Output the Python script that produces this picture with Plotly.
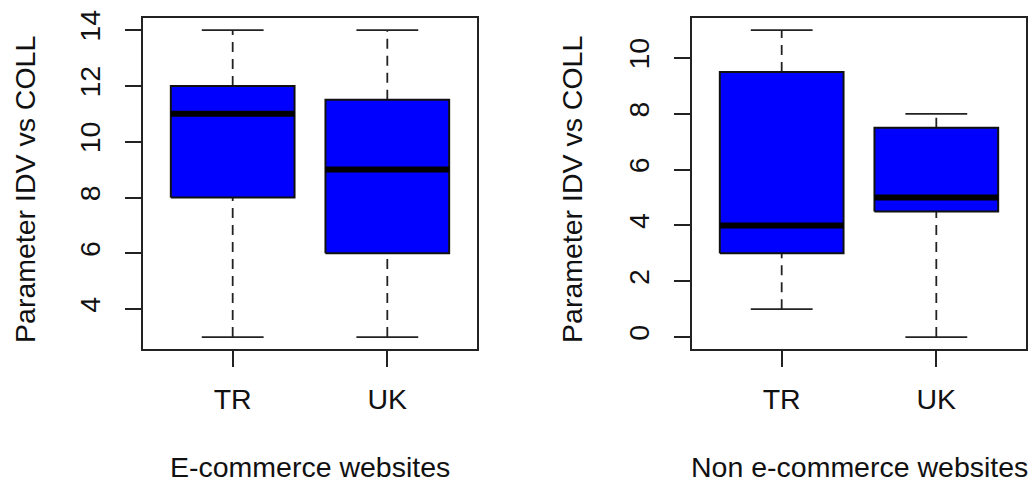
import plotly.graph_objects as go

# Five-number summaries per country group
groups = ["TR", "UK"]

ecom_min = [3, 3]
ecom_q1 = [8, 6]
ecom_med = [11, 9]
ecom_q3 = [12, 11.5]
ecom_max = [14, 14]

non_min = [1, 0]
non_q1 = [3, 4.5]
non_med = [4, 5]
non_q3 = [9.5, 7.5]
non_max = [11, 8]

panel_titles = ["E-commerce websites", "Non e-commerce websites"]
y_title = "Parameter IDV vs COLL"

BOX_HALF = 0.4
CAP_HALF = 0.2
FONT = dict(family="Liberation Sans, Arial, sans-serif", size=28.5, color="#111111")

fig = go.Figure()


def add_boxes(mins, q1s, meds, q3s, maxs, xa, ya):
    for i, _ in enumerate(groups):
        x = i + 1
        # dashed whiskers
        for lo, hi in ((mins[i], q1s[i]), (q3s[i], maxs[i])):
            fig.add_trace(go.Scatter(
                x=[x, x], y=[lo, hi], mode="lines", xaxis=xa, yaxis=ya,
                line=dict(color="#222222", width=1.8, dash="10px,7px"),
                hoverinfo="skip", showlegend=False))
        # whisker caps
        for v in (mins[i], maxs[i]):
            fig.add_trace(go.Scatter(
                x=[x - CAP_HALF, x + CAP_HALF], y=[v, v], mode="lines",
                xaxis=xa, yaxis=ya, line=dict(color="#222222", width=1.8),
                hoverinfo="skip", showlegend=False))
        # box body
        fig.add_trace(go.Scatter(
            x=[x - BOX_HALF, x + BOX_HALF, x + BOX_HALF, x - BOX_HALF, x - BOX_HALF],
            y=[q1s[i], q1s[i], q3s[i], q3s[i], q1s[i]],
            mode="lines", fill="toself", fillcolor="#0000FF",
            xaxis=xa, yaxis=ya, line=dict(color="#111111", width=2),
            hoverinfo="skip", showlegend=False))
        # median
        fig.add_trace(go.Scatter(
            x=[x - BOX_HALF, x + BOX_HALF], y=[meds[i], meds[i]], mode="lines",
            xaxis=xa, yaxis=ya, line=dict(color="#000000", width=6),
            hoverinfo="skip", showlegend=False))


def padded(lo, hi):
    span = hi - lo
    return [lo - 0.04 * span, hi + 0.04 * span]


add_boxes(ecom_min, ecom_q1, ecom_med, ecom_q3, ecom_max, "x", "y")
add_boxes(non_min, non_q1, non_med, non_q3, non_max, "x2", "y2")

W, H = 1031, 487
y_dom = [(H - 347) / H, (H - 10) / H]
x_doms = [[143 / W, 477 / W], [692 / W, 1026 / W]]

common_x = dict(
    tickmode="array", tickvals=[1, 2], ticktext=groups,
    range=padded(0.5, len(groups) + 0.5),
    showline=True, mirror=True, linecolor="#222222", linewidth=2,
    ticks="outside", ticklen=16, tickwidth=2, tickcolor="#222222",
    showgrid=False, zeroline=False, tickfont=FONT, ticklabelstandoff=8,
)
common_y = dict(
    tickmode="linear", tick0=0, dtick=2, tickangle=-90,
    showline=True, mirror=True, linecolor="#222222", linewidth=2,
    ticks="outside", ticklen=16, tickwidth=2, tickcolor="#222222",
    showgrid=False, zeroline=False, tickfont=FONT, ticklabelstandoff=14,
)

fig.update_layout(
    width=W, height=H,
    margin=dict(l=0, r=0, t=0, b=0),
    paper_bgcolor="white", plot_bgcolor="white",
    font=FONT,
    xaxis=dict(domain=x_doms[0], anchor="y", **common_x),
    yaxis=dict(domain=y_dom, anchor="x",
               range=padded(min(ecom_min), max(ecom_max)), **common_y),
    xaxis2=dict(domain=x_doms[1], anchor="y2", **common_x),
    yaxis2=dict(domain=y_dom, anchor="x2",
                range=padded(min(non_min), max(non_max)), **common_y),
)

# axis titles
for dom, title, ylab_x in ((x_doms[0], panel_titles[0], 25), (x_doms[1], panel_titles[1], 572)):
    fig.add_annotation(
        text=title, xref="paper", yref="paper",
        x=(dom[0] + dom[1]) / 2, y=(H - 467) / H,
        showarrow=False, font=FONT, xanchor="center", yanchor="middle")
    fig.add_annotation(
        text=y_title, xref="paper", yref="paper",
        x=ylab_x / W, y=(H - 185) / H, textangle=-90,
        showarrow=False, font=FONT, xanchor="center", yanchor="middle")

fig.write_html("out.html")
